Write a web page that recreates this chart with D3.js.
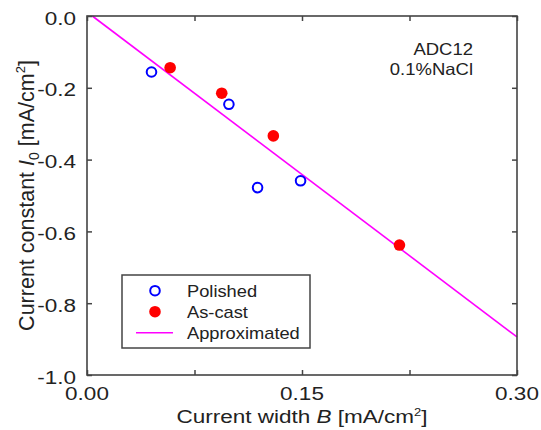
<!DOCTYPE html>
<html><head><meta charset="utf-8">
<script src="https://cdn.jsdelivr.net/npm/d3@7"></script>
<style>body{margin:0;background:#fff}svg{display:block}text{font-family:"Liberation Sans",Arial,sans-serif;fill:#222}</style>
</head><body><svg id="c" width="541" height="430"></svg>
<script>
const polishedB = [0.045, 0.099, 0.119, 0.149];
const polishedI = [-0.156, -0.246, -0.478, -0.459];
const ascastB = [0.058, 0.094, 0.130, 0.218];
const ascastI = [-0.144, -0.215, -0.334, -0.638];
const fitB = [0.0037, 0.30];
const fitI = [0, -0.894];
const xTicks = [0, 0.075, 0.15, 0.225, 0.30];
const xTickLabels = ["0.00", "", "0.15", "", "0.30"];
const yTicks = [0, -0.2, -0.4, -0.6, -0.8, -1.0];
const yTickLabels = ["0.0", "-0.2", "-0.4", "-0.6", "-0.8", "-1.0"];
const legendLabels = ["Polished", "As-cast", "Approximated"];
const noteLines = ["ADC12", "0.1%NaCl"];

const svg = d3.select("#c");
const L = 87, R = 517, T = 16, B = 375;
const x = d3.scaleLinear().domain([0, 0.3]).range([L, R]);
const y = d3.scaleLinear().domain([0, -1]).range([T, B]);
const frame = "#444";

function txt(g, px, py, str, size, sy, anchor) {
  return g.append("text").attr("transform", `translate(${px},${py}) scale(1,${sy})`)
    .attr("text-anchor", anchor || "start").style("font-size", size + "px").text(str);
}

// ticks (inward) on all sides
const axB = d3.axisBottom(x).tickValues(xTicks).tickSize(-5).tickFormat(() => "");
const axT = d3.axisTop(x).tickValues(xTicks).tickSize(-5).tickFormat(() => "");
const axL = d3.axisLeft(y).tickValues(yTicks).tickSize(-5).tickFormat(() => "");
const axR = d3.axisRight(y).tickValues(yTicks).tickSize(-5).tickFormat(() => "");
[[axB, `translate(0,${B})`], [axT, `translate(0,${T})`], [axL, `translate(${L},0)`], [axR, `translate(${R},0)`]].forEach(([a, t]) => {
  const g = svg.append("g").attr("transform", t).call(a);
  g.select(".domain").remove();
  g.selectAll("line").attr("stroke", frame).attr("stroke-width", 1.5);
});

// fit line
svg.append("path").datum(fitB.map((b, i) => [b, fitI[i]]))
  .attr("d", d3.line().x(d => x(d[0])).y(d => y(d[1])))
  .attr("fill", "none").attr("stroke", "#ff00ff").attr("stroke-width", 1.6);

// points
svg.append("g").selectAll("circle").data(polishedB.map((b, i) => [b, polishedI[i]])).join("circle")
  .attr("cx", d => x(d[0])).attr("cy", d => y(d[1])).attr("r", 4.8)
  .attr("fill", "none").attr("stroke", "#0000ff").attr("stroke-width", 2);
svg.append("g").selectAll("circle").data(ascastB.map((b, i) => [b, ascastI[i]])).join("circle")
  .attr("cx", d => x(d[0])).attr("cy", d => y(d[1])).attr("r", 5.8)
  .attr("fill", "#ff0000");

// frame
svg.append("rect").attr("x", L).attr("y", T).attr("width", R - L).attr("height", B - T)
  .attr("fill", "none").attr("stroke", frame).attr("stroke-width", 1.6);

// tick labels
yTicks.forEach((v, i) => txt(svg, 76, y(v) + 8.5, yTickLabels[i], 22.5, 0.8, "end"));
xTicks.forEach((v, i) => { if (xTickLabels[i]) txt(svg, x(v), 400, xTickLabels[i], 22.5, 0.8, "middle"); });

// axis titles
const xt = txt(svg, (L + R) / 2, 423, "", 22.5, 0.8, "middle");
xt.append("tspan").text("Current width ");
xt.append("tspan").style("font-style", "italic").text("B");
xt.append("tspan").text(" [mA/cm");
xt.append("tspan").attr("dy", -9).style("font-size", "13px").text("2");
xt.append("tspan").attr("dy", 9).text("]");

const yt = svg.append("text").attr("transform", `translate(34,${(T + B) / 2}) rotate(-90)`)
  .attr("text-anchor", "middle").style("font-size", "21.5px");
yt.append("tspan").text("Current constant ");
yt.append("tspan").style("font-style", "italic").text("I");
yt.append("tspan").attr("dy", 5).style("font-size", "14px").text("0");
yt.append("tspan").attr("dy", -5).text(" [mA/cm");
yt.append("tspan").attr("dy", -9).style("font-size", "13px").text("2");
yt.append("tspan").attr("dy", 9).text("]");

// annotation
noteLines.forEach((s, i) => txt(svg, 473, 55 + i * 20, s, 18.5, 0.88, "end"));

// legend
const lg = svg.append("g");
lg.append("rect").attr("x", 122).attr("y", 275).attr("width", 188).attr("height", 73)
  .attr("fill", "#fff").attr("stroke", frame).attr("stroke-width", 1.5);
const rows = [290.7, 311.7, 332.7];
lg.append("circle").attr("cx", 155).attr("cy", rows[0]).attr("r", 4.8).attr("fill", "none").attr("stroke", "#0000ff").attr("stroke-width", 2);
lg.append("circle").attr("cx", 155).attr("cy", rows[1]).attr("r", 5.8).attr("fill", "#ff0000");
lg.append("line").attr("x1", 136).attr("x2", 173).attr("y1", rows[2]).attr("y2", rows[2]).attr("stroke", "#ff00ff").attr("stroke-width", 1.6);
legendLabels.forEach((s, i) => txt(lg, 187, rows[i] + 5.8, s, 18.3, 0.88, "start"));
</script></body></html>
